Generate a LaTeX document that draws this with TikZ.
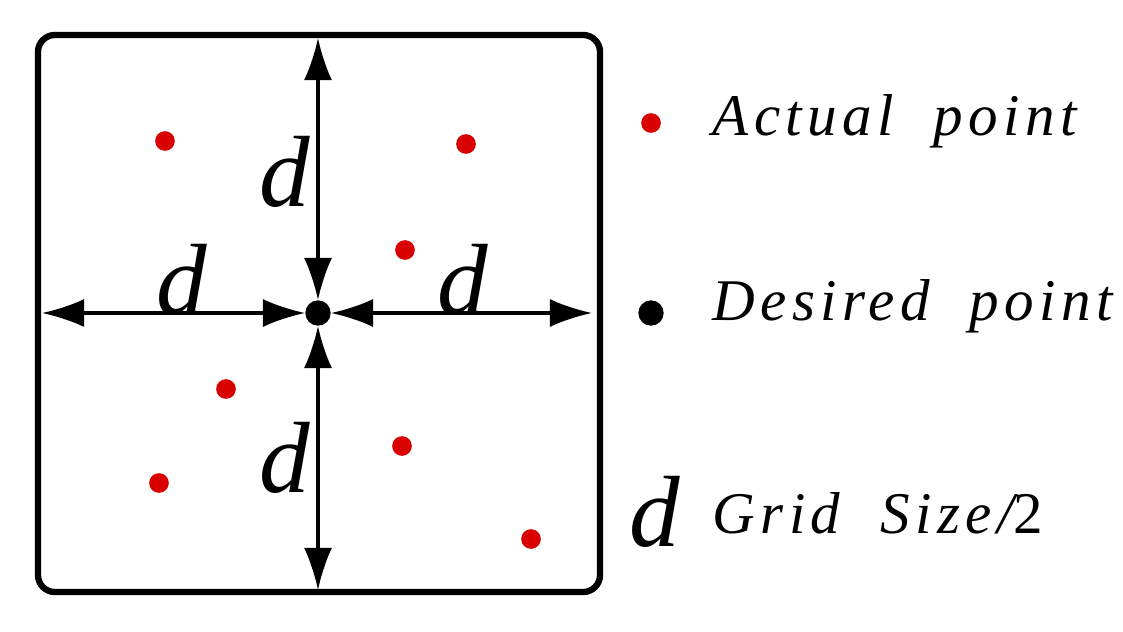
\documentclass[tikz,border=0pt]{standalone}
\usepackage{fontspec}
\setmainfont{Liberation Serif}
\usetikzlibrary{arrows.meta}
\tikzset{
  dim/.style={line width=2.2pt,{Latex[length=30pt,width=20pt]}-{Latex[length=30pt,width=20pt]}},
  actual/.style={circle,fill=red!85!black,inner sep=0pt,minimum size=14pt},
  desired/.style={circle,fill=black,inner sep=0pt,minimum size=18pt},
  dlabel/.style={font=\fontsize{72}{80}\selectfont\itshape},
  legend/.style={anchor=west,font=\fontsize{42}{50}\selectfont\itshape\addfontfeatures{LetterSpace=9}}
}
\begin{document}
\begin{tikzpicture}[x=0.025cm,y=-0.025cm]
  \useasboundingbox (0,0) rectangle (1123,631);
  \draw[line width=4.5pt,rounded corners=12pt] (38,35) rectangle (600,592);
  % centre and edges
  \node[desired] (C) at (318,313) {};
  \coordinate (T) at (318,38);
  \coordinate (B) at (318,590);
  \coordinate (L) at (42,313);
  \coordinate (R) at (592,313);
  \draw[dim] (T) -- (C.north);
  \draw[dim] (C.south) -- (B);
  \draw[dim] (L) -- (C.west);
  \draw[dim] (C.east) -- (R);
  \node[dlabel] (d1) at (285,172) {d};
  \node[dlabel] (d2) at (182,280) {d};
  \node[dlabel] (d3) at (463,280) {d};
  \node[dlabel] (d4) at (285,458) {d};
  % actual points
  \foreach \px/\py [count=\i] in {165/141,466/144,405/250,226/389,159/483,402/446,531/539}
    \node[actual] (p\i) at (\px,\py) {};
  % legend
  \node[actual] (ka) at (651,123) {};
  \node[legend] (ta) at (708,121) {Actual\ \ point};
  \node[desired] (kd) at (651,313) {};
  \node[legend] (td) at (708,306) {Desired\ \ point};
  \node[dlabel] (kg) at (655,512) {d};
  \node[legend] (tg) at (708,513) {Grid\ \ Size/\upshape 2};
\end{tikzpicture}
\end{document}
